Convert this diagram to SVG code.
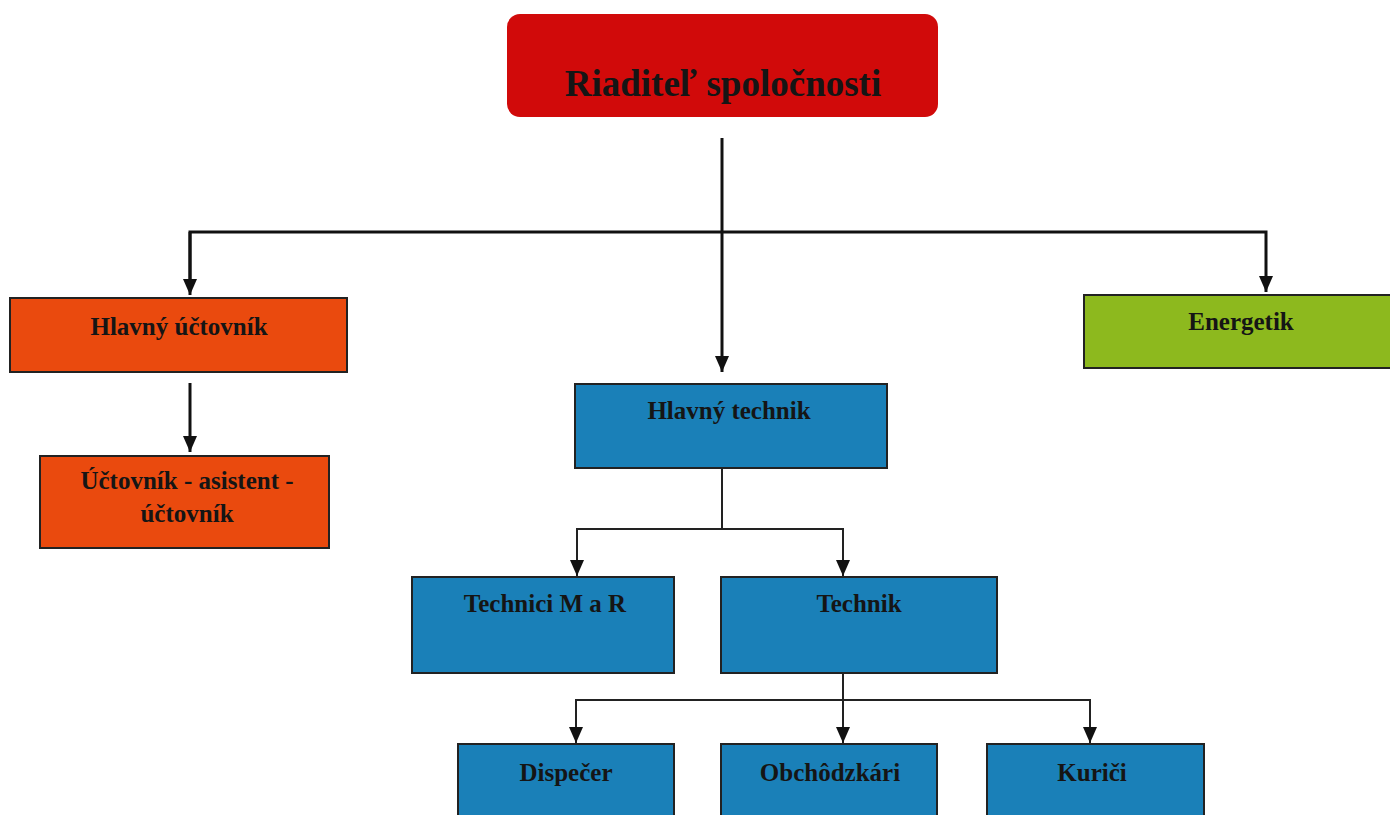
<svg xmlns="http://www.w3.org/2000/svg" width="1390" height="815" viewBox="0 0 1390 815">
<defs>
<marker id="ah" markerWidth="16" markerHeight="16" viewBox="0 0 16 16" refX="16" refY="8" orient="auto" markerUnits="userSpaceOnUse">
<path d="M0,1 L16,8 L0,15 Z" fill="#111"/>
</marker>
<style>
.box{stroke:#222;stroke-width:2}
.red{fill:#d10a0a}
.orange{fill:#ea4a0e}
.green{fill:#8db91e}
.blue{fill:#1a80b8}
.t{font-family:"Liberation Serif","Times New Roman",serif;font-weight:bold;fill:#151515;text-anchor:middle;font-size:25px}
.c{fill:none;stroke:#111;stroke-width:3}
.c2{fill:none;stroke:#222;stroke-width:2}
</style>
</defs>
<rect width="1390" height="815" fill="#fff"/>
<g id="connectors">
<path class="c" d="M722,138 V372" marker-end="url(#ah)"/>
<path class="c" d="M190,290 V232 H1266 V292" marker-end="url(#ah)"/>
<path class="c" d="M190,232 V295" marker-end="url(#ah)"/>
<path class="c" d="M190,383 V452" marker-end="url(#ah)"/>
<path class="c2" d="M722,468 V529 H577 V576" marker-end="url(#ah)"/>
<path class="c2" d="M722,529 H843 V576" marker-end="url(#ah)"/>
<path class="c2" d="M843,673 V743" marker-end="url(#ah)"/>
<path class="c2" d="M843,700 H576 V743" marker-end="url(#ah)"/>
<path class="c2" d="M843,700 H1090 V743" marker-end="url(#ah)"/>
</g>
<g id="riaditel">
<rect class="red" x="507" y="14" width="431" height="103" rx="13"/>
<text class="t" x="723" y="96" style="font-size:37px">Riaditeľ spoločnosti</text>
</g>
<g id="hlavny-uctovnik">
<rect class="box orange" x="10" y="298" width="337" height="74"/>
<text class="t" x="179" y="335">Hlavný účtovník</text>
</g>
<g id="uctovnik-asistent">
<rect class="box orange" x="40" y="456" width="289" height="92"/>
<text class="t" x="187" y="489">Účtovník - asistent -</text>
<text class="t" x="187" y="522">účtovník</text>
</g>
<g id="energetik">
<rect class="box green" x="1084" y="295" width="310" height="73"/>
<text class="t" x="1241" y="330">Energetik</text>
</g>
<g id="hlavny-technik">
<rect class="box blue" x="575" y="384" width="312" height="84"/>
<text class="t" x="729" y="419">Hlavný technik</text>
</g>
<g id="technici-mar">
<rect class="box blue" x="412" y="577" width="262" height="96"/>
<text class="t" x="545" y="612">Technici M a R</text>
</g>
<g id="technik">
<rect class="box blue" x="721" y="577" width="276" height="96"/>
<text class="t" x="859" y="612">Technik</text>
</g>
<g id="dispecer">
<rect class="box blue" x="458" y="744" width="216" height="80"/>
<text class="t" x="566" y="781">Dispečer</text>
</g>
<g id="obchodzkari">
<rect class="box blue" x="721" y="744" width="216" height="80"/>
<text class="t" x="830" y="781">Obchôdzkári</text>
</g>
<g id="kurici">
<rect class="box blue" x="987" y="744" width="217" height="80"/>
<text class="t" x="1092" y="781">Kuriči</text>
</g>
</svg>
